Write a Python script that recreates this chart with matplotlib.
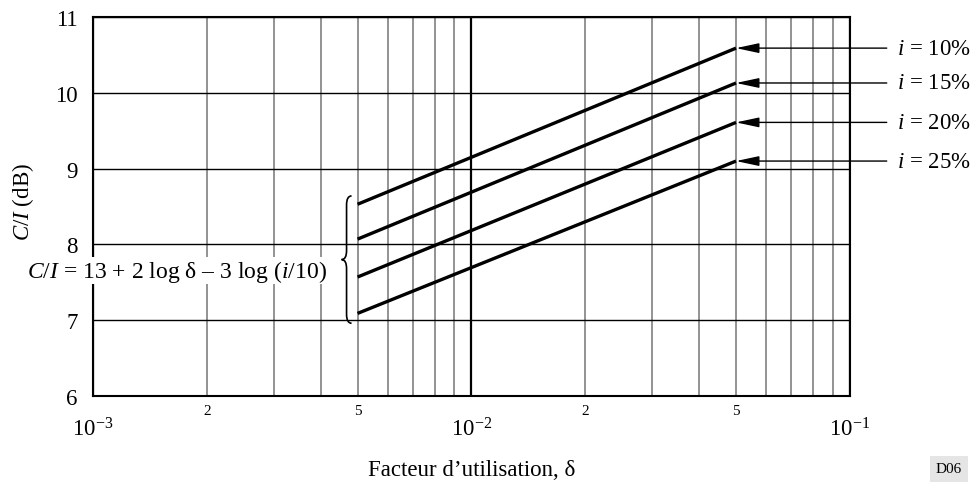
import math
import matplotlib
matplotlib.use("Agg")
import matplotlib.pyplot as plt
from matplotlib.ticker import LogLocator, FuncFormatter
from matplotlib.path import Path
from matplotlib.patches import PathPatch
from matplotlib.transforms import IdentityTransform

plt.rcParams['font.family'] = ['Liberation Serif', 'DejaVu Serif']
plt.rcParams['mathtext.fontset'] = 'custom'
plt.rcParams['mathtext.rm'] = 'Liberation Serif'
plt.rcParams['mathtext.it'] = 'Liberation Serif:italic'

# data (line end points)
delta = [0.005, 0.05]
ci_10 = [8.53, 10.59]
ci_15 = [8.07, 10.13]
ci_20 = [7.57, 9.61]
ci_25 = [7.09, 9.10]
series = [ci_10, ci_15, ci_20, ci_25]
labels = ['$i$ = 10%', '$i$ = 15%', '$i$ = 20%', '$i$ = 25%']
y_ticks = [6, 7, 8, 9, 10, 11]

fig = plt.figure(figsize=(9.78, 4.85), dpi=100)
ax = fig.add_axes([0.0951, 0.1814, 0.774, 0.7814])
ax.set_xscale('log')
ax.set_xlim(1e-3, 1e-1)
ax.set_ylim(6, 11)

# grid
ax.xaxis.set_minor_locator(LogLocator(base=10, subs=range(2, 10)))
ax.grid(True, which='minor', axis='x', color='#808080', lw=1.2)
ax.grid(True, which='major', axis='x', color='black', lw=1.6)
ax.set_yticks(y_ticks)
ax.grid(True, which='major', axis='y', color='black', lw=1.0)
ax.set_axisbelow(True)
for s in ax.spines.values():
    s.set_linewidth(1.5)

def minor_fmt(v, pos):
    m = round(v / 10 ** math.floor(math.log10(v) + 1e-9))
    return str(m) if m in (2, 5) else ''

ax.xaxis.set_minor_formatter(FuncFormatter(minor_fmt))
ax.xaxis.set_major_formatter(FuncFormatter(lambda v, p: '$10^{%d}$' % round(math.log10(v))))
ax.tick_params(axis='x', which='major', length=0, labelsize=16.5, pad=15)
ax.tick_params(axis='x', which='minor', length=0, labelsize=11, pad=6)
ax.tick_params(axis='y', length=0, labelsize=16.5, pad=11)

# lines
for ys in series:
    ax.plot(delta, ys, color='black', lw=2.4, solid_capstyle='butt', zorder=3)

# arrows and labels
for ys, lab in zip(series, labels):
    ax.annotate('', xy=(delta[-1], ys[-1]), xytext=(108.5, 0), textcoords='offset points',
                arrowprops=dict(arrowstyle='-|>,head_length=1.4,head_width=0.3', mutation_scale=10,
                                color='black', lw=1, shrinkA=0, shrinkB=0), annotation_clip=False)
    ax.annotate(lab, xy=(delta[-1], ys[-1]), xytext=(116, 0), textcoords='offset points',
                va='center', ha='left', fontsize=16.5, annotation_clip=False)

# equation
ax.text(0.00415, 7.655, '$C/I$ = 13 + 2 log δ – 3 log ($i$/10)', ha='right', va='center',
        fontsize=17, bbox=dict(facecolor='white', edgecolor='none', pad=0.5), zorder=4)

# curly brace
x0, ytop = ax.transData.transform((delta[0], 8.64))
_, ybot = ax.transData.transform((delta[0], 6.96))
_, ymid = ax.transData.transform((delta[0], 7.80))
xr = x0 - 6
xm = xr - 5
xt = xr - 10
verts = [(xr, ytop), (xm, ytop), (xm, ytop - 9), (xm, ymid + 9), (xm, ymid), (xt, ymid),
         (xm, ymid), (xm, ymid - 9), (xm, ybot + 9), (xm, ybot), (xr, ybot)]
codes = [Path.MOVETO, Path.CURVE3, Path.CURVE3, Path.LINETO, Path.CURVE3, Path.CURVE3,
         Path.CURVE3, Path.CURVE3, Path.LINETO, Path.CURVE3, Path.CURVE3]
fig.patches.append(PathPatch(Path(verts, codes), transform=IdentityTransform(),
                             facecolor='none', edgecolor='black', lw=1.2, figure=fig))

ax.set_xlabel('Facteur d\u2019utilisation, δ', fontsize=16.5)
ax.xaxis.set_label_coords(0.5, -0.195)
ax.xaxis.label.set_va('center')
ax.set_ylabel('$C/I$ (dB)', fontsize=16.5)
ax.yaxis.set_label_coords(-0.093, 0.515)
ax.yaxis.label.set_va('center')

fig.text(949 / 978, 15 / 485, 'D06', ha='center', va='center', fontsize=11,
         bbox=dict(facecolor='#e5e5e5', edgecolor='none', pad=4.5))

fig.savefig('out.png', dpi=100)
